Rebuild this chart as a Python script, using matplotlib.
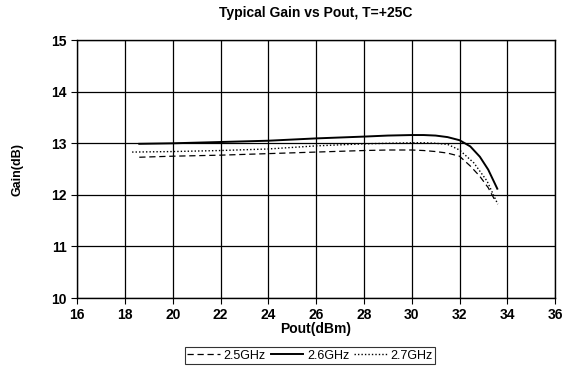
import numpy as np
import matplotlib.pyplot as plt

# Gain vs output power at three frequencies
pout_25 = [18.6, 20, 22, 24, 26, 28, 29, 30, 30.5, 31, 31.5, 32, 32.45, 32.85, 33.2, 33.5]
gain_25 = [12.73, 12.75, 12.77, 12.80, 12.83, 12.86, 12.87, 12.87, 12.86, 12.84, 12.81, 12.75, 12.56, 12.36, 12.14, 11.88]

pout_26 = [18.6, 20, 22, 24, 26, 28, 29, 30, 30.5, 31, 31.5, 32, 32.45, 32.85, 33.2, 33.58]
gain_26 = [12.99, 13.0, 13.025, 13.05, 13.095, 13.13, 13.15, 13.16, 13.16, 13.15, 13.12, 13.06, 12.94, 12.74, 12.49, 12.12]

pout_27 = [18.3, 20, 22, 24, 26, 28, 29, 30, 30.5, 31, 31.5, 32, 32.6, 33.15, 33.6]
gain_27 = [12.83, 12.84, 12.86, 12.89, 12.95, 12.99, 13.0, 13.01, 13.01, 13.0, 12.98, 12.87, 12.62, 12.27, 11.82]

plt.rcParams['font.family'] = ['Liberation Sans', 'DejaVu Sans']

fig = plt.figure(figsize=(5.63, 3.68), dpi=100)
ax = fig.add_axes([0.137, 0.19, 0.849, 0.701])

ax.plot(pout_25, gain_25, color='black', linestyle=(0, (5, 3)), linewidth=0.9, label='2.5GHz')
ax.plot(pout_26, gain_26, color='black', linestyle='solid', linewidth=1.4, label='2.6GHz')
ax.plot(pout_27, gain_27, color='black', linestyle=(0, (1, 1.5)), linewidth=1.0, label='2.7GHz')

ax.set_xlim(16, 36)
ax.set_ylim(10, 15)
ax.set_xticks(np.arange(16, 37, 2))
ax.set_yticks(np.arange(10, 16, 1))
ax.grid(True, color='black', linewidth=0.9)
ax.set_axisbelow(True)
ax.tick_params(labelsize=10, length=4, direction='out')
for lab in ax.get_xticklabels() + ax.get_yticklabels():
    lab.set_fontweight('bold')
for s in ax.spines.values():
    s.set_linewidth(1.0)

ax.set_title('Typical Gain vs Pout, T=+25C', fontsize=10, fontweight='bold', pad=17)
ax.set_xlabel('Pout(dBm)', fontsize=10, fontweight='bold', labelpad=0)
ax.set_ylabel('Gain(dB)', fontsize=9, fontweight='bold', labelpad=20)

leg = ax.legend(loc='upper center', bbox_to_anchor=(0.487, -0.19), ncol=3, fontsize=9,
                frameon=True, fancybox=False, edgecolor='black', handlelength=2.6,
                handletextpad=0.3, columnspacing=0.4, borderpad=0.2, borderaxespad=0)
leg.get_frame().set_linewidth(0.8)

fig.savefig('out.png', dpi=100)
